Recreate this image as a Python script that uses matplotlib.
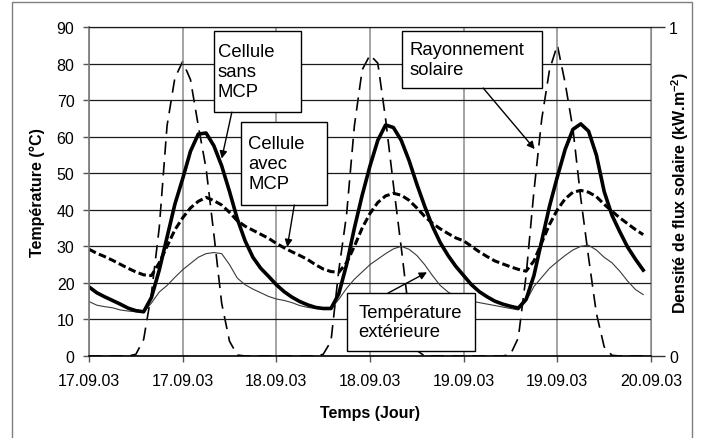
import numpy as np
import matplotlib
matplotlib.use('Agg')
import matplotlib.pyplot as plt
from matplotlib.patches import Rectangle

plt.rcParams['font.family'] = ['Liberation Sans', 'DejaVu Sans']
plt.rcParams['mathtext.fontset'] = 'custom'
plt.rcParams['mathtext.rm'] = 'Liberation Sans'
plt.rcParams['mathtext.bf'] = 'Liberation Sans:bold'

# heures depuis le 17.09.03 00h00
heures = np.arange(72)

# rayonnement solaire (kW.m-2)
rayonnement = [0, 0, 0, 0, 0, 0, 0.005, 0.05, 0.19, 0.39, 0.7, 0.845, 0.895, 0.84, 0.7, 0.57, 0.37, 0.16, 0.045, 0.003, 0, 0, 0, 0,
               0, 0, 0, 0, 0, 0, 0.005, 0.045, 0.26, 0.43, 0.7, 0.87, 0.915, 0.89, 0.72, 0.52, 0.33, 0.13, 0.017, 0, 0, 0, 0, 0,
               0, 0, 0, 0, 0, 0, 0.005, 0.055, 0.245, 0.5, 0.72, 0.87, 0.945, 0.83, 0.69, 0.48, 0.3, 0.13, 0.028, 0.002, 0, 0, 0, 0]

# temperatures (degC)
sans_mcp = [18.9, 17.3, 16.2, 15.2, 14.2, 13.1, 12.4, 12.1, 16, 23.5, 32.5, 41.5, 48.5, 56, 60.7, 61, 57.5, 52, 45, 37.5, 31.5, 27, 24, 21.8,
            19.5, 17.6, 16.1, 14.9, 14, 13.3, 13, 13, 17, 25, 35, 44, 52, 59, 63.2, 62.5, 59, 53.5, 47, 41, 35.5, 31, 27.5, 24.5,
            22, 19.5, 17.6, 16.2, 15, 14.2, 13.6, 13.1, 15.5, 22, 31.5, 41, 49, 56.5, 62, 63.5, 61.5, 55, 45, 38.5, 34, 29.8, 26.5, 23.5]

avec_mcp = [29.2, 28.1, 27.2, 26.2, 25.1, 24, 23, 22.2, 22, 25.5, 30, 34.5, 37.8, 40.5, 42.3, 43.4, 42.5, 41.3, 39.3, 37, 35.5, 34.4, 33.3, 32.2,
            30.8, 29.6, 28.5, 27.5, 26.4, 25, 23.8, 23.1, 22.9, 25.5, 30, 35, 39, 42, 43.8, 44.5, 44, 42.6, 40.5, 38.2, 36.3, 34.8, 33.5, 32.3,
            31.5, 30, 28.5, 27.2, 26, 25.2, 24.4, 23.7, 23.2, 26, 31, 36, 40, 43, 44.8, 45.3, 44.8, 43.6, 41.5, 39.6, 37.8, 36.2, 34.6, 33.2]

t_ext = [14.9, 13.9, 13.5, 13.2, 12.6, 12.3, 12.1, 12.0, 14.5, 17.5, 19.3, 21.5, 23.6, 25.3, 27, 28, 28.3, 28, 25, 21.3, 19.5, 18.3, 17.3, 16.3,
         15.6, 15.2, 14.6, 13.8, 13.3, 13, 12.8, 12.8, 15.5, 18.5, 21, 23, 25, 26.5, 28, 29.3, 30, 29.2, 27.5, 25, 22, 19.3, 17.5, 16.3,
         15.5, 15, 14.6, 14.2, 13.8, 13.4, 13, 12.6, 15, 19, 21.5, 24, 25.8, 27.5, 29, 30, 30.3, 29, 27, 25.5, 23.2, 20.5, 18.2, 16.8]

tick_pos = [0, 12, 24, 36, 48, 60, 72]
tick_labels = ['17.09.03', '17.09.03', '18.09.03', '18.09.03', '19.09.03', '19.09.03', '20.09.03']

W, H = 701, 439
fig = plt.figure(figsize=(W / 100, H / 100), dpi=100)
fig.patches.append(Rectangle((12 / W, -0.05), (692 - 12) / W, 1.05 - 3 / H,
                             transform=fig.transFigure, fill=False, ec='#7f7f7f', lw=1))

ax = fig.add_axes([89 / W, 1 - 357 / H, 562 / W, 329 / H])
ax2 = ax.twinx()
ax.set_zorder(ax2.get_zorder() + 1)
ax.patch.set_visible(False)

# rayonnement sur l'axe de droite
ax2.plot(heures, rayonnement, color='black', lw=1.2, dashes=(8, 4.5))
ax2.set_ylim(0, 1)
ax2.set_yticks([0, 1])
ax2.tick_params(axis='y', direction='out', length=10, width=1, labelsize=11.5, pad=3, color='#333333')
for s in ax2.spines.values():
    s.set_visible(False)

ax.plot(heures, t_ext, color='#3a3a3a', lw=0.8)
ax.plot(heures, avec_mcp, color='black', lw=2.2, dashes=(2.5, 1.1))
ax.plot(heures, sans_mcp, color='black', lw=2.6)

ax.set_xlim(0, 72)
ax.set_ylim(0, 90)
ax.set_yticks(range(0, 91, 10))
ax.set_xticks(tick_pos)
ax.set_xticklabels(tick_labels)
ax.tick_params(axis='both', direction='out', length=4.5, width=1, labelsize=11.5, color='#555555')
ax.tick_params(axis='x', pad=8)
ax.tick_params(axis='y', pad=6)

ax.grid(axis='y', color='#1a1a1a', lw=0.9)
ax.grid(axis='x', color='#8a8a8a', lw=1.1)
ax.set_axisbelow(True)
ax.spines['left'].set_color('#777777')
ax.spines['left'].set_linewidth(1.2)
ax.spines['right'].set_color('#8a8a8a')
ax.spines['top'].set_color('#1a1a1a')
ax.spines['top'].set_linewidth(0.9)
ax.spines['bottom'].set_color('black')
ax.spines['bottom'].set_linewidth(1.2)

ax.set_ylabel('Température (°C)', fontsize=11.5, fontweight='bold')
ax.yaxis.set_label_coords(-0.093, 0.5)
ax.yaxis.label.set_va('center')
ax.set_xlabel('Temps (Jour)', fontsize=11.5, fontweight='bold')
ax.xaxis.set_label_coords(0.5, -0.172)
ax.xaxis.label.set_va('center')
ax2.set_ylabel(r'Densité de flux solaire (kW.m$^{\mathbf{-2}}$)', fontsize=11.5, fontweight='bold')
ax2.yaxis.set_label_coords(1.052, 0.5)
ax2.yaxis.label.set_va('center')

# cadres des annotations : texte, (x0, x1) en heures, (bas, haut) en degC, x du texte
boxes = [
    ('Cellule\nsans\nMCP', (16.0, 27.2), (66.7, 88.9), 16.5),
    ('Cellule\navec\nMCP', (19.5, 30.5), (41.3, 64.0), 20.4),
    ('Rayonnement\nsolaire', (40.1, 58.0), (73.3, 88.9), 41.1),
    ('Température\nextérieure', (33.05, 49.45), (1.4, 17.2), 34.5),
]
for txt, (x0, x1), (y0, y1), tx in boxes:
    ax.add_patch(Rectangle((x0, y0), x1 - x0, y1 - y0, fc='white', ec='black', lw=1, zorder=6))
    ax.text(tx, (y0 + y1) / 2, txt, fontsize=13.3, ha='left', va='center', linespacing=1.22, zorder=7)

fleches = [
    ((18.3, 66.7), (17.0, 54.0)),
    ((26.3, 41.3), (25.4, 29.8)),
    ((50.5, 73.3), (57.1, 56.6)),
    ((38.3, 17.2), (43.3, 22.9)),
]
for start, end in fleches:
    ax.annotate('', xy=end, xytext=start, zorder=8,
                arrowprops=dict(arrowstyle='-|>', color='black', lw=1, mutation_scale=11,
                                shrinkA=0, shrinkB=0))

fig.savefig('out.png', dpi=100)
